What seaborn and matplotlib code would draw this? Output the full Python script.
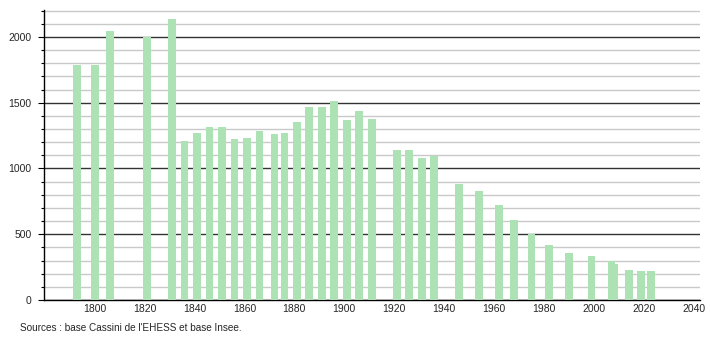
import matplotlib
matplotlib.use("Agg")
import matplotlib.pyplot as plt
from matplotlib.ticker import MultipleLocator
import seaborn as sns
import pandas as pd

years = [1793, 1800, 1806, 1821, 1831, 1836, 1841, 1846, 1851, 1856, 1861, 1866,
         1872, 1876, 1881, 1886, 1891, 1896, 1901, 1906, 1911, 1921, 1926, 1931,
         1936, 1946, 1954, 1962, 1968, 1975, 1982, 1990, 1999, 2007, 2008, 2014,
         2019, 2023]
population = [1788, 1788, 2046, 2000, 2137, 1209, 1272, 1313, 1318, 1224, 1234, 1285,
              1265, 1272, 1356, 1465, 1465, 1513, 1369, 1437, 1376, 1141, 1141, 1082,
              1097, 885, 829, 725, 610, 504, 418, 360, 337, 294, 277, 228,
              220, 220]
y_ticks = [0, 500, 1000, 1500, 2000]
x_ticks = [1800, 1820, 1840, 1860, 1880, 1900, 1920, 1940, 1960, 1980, 2000, 2020, 2040]
source_text = "Sources : base Cassini de l'EHESS et base Insee."

df = pd.DataFrame({"year": years, "population": population})

sns.set_style("white")
plt.rcParams["font.family"] = ["Liberation Sans", "DejaVu Sans"]

fig = plt.figure(figsize=(7.1, 3.4), dpi=100)
ax = fig.add_axes([44 / 710, 40 / 340, 656 / 710, 290 / 340])

# native_scale: width is relative to the smallest gap between years (1 year)
sns.barplot(data=df, x="year", y="population", native_scale=True, width=3.1,
            color="#ade3b4", saturation=1, errorbar=None, ax=ax, zorder=3,
            linewidth=0)

ax.set_xlim(1779.7, 2042.5)
ax.set_ylim(0, 2205)
ax.yaxis.set_major_locator(MultipleLocator(500))
ax.yaxis.set_minor_locator(MultipleLocator(100))
ax.set_yticks(y_ticks)
ax.set_xticks(x_ticks)
ax.set_xticklabels([str(t) for t in x_ticks])

ax.grid(False)
ax.set_axisbelow(True)
ax.yaxis.grid(True, which="minor", color="#c9c9c9", linewidth=1.0, zorder=0)
ax.yaxis.grid(True, which="major", color="#333333", linewidth=1.0, zorder=1)

for s in ["top", "right"]:
    ax.spines[s].set_visible(False)
for s in ["left", "bottom"]:
    ax.spines[s].set_color("#000000")
    ax.spines[s].set_linewidth(1.0)

ax.tick_params(axis="y", which="major", direction="out", length=4, width=0.8,
               color="black", labelsize=7.5, pad=5, left=True)
ax.tick_params(axis="y", which="minor", direction="out", length=2, width=0.8,
               color="black", left=True)
ax.tick_params(axis="x", which="both", length=0, labelsize=7.5, pad=3)

ax.set_xlabel("")
ax.set_ylabel("")

fig.text(20 / 710, 1 - 328 / 340, source_text, fontsize=7.2, ha="left", va="center")

fig.savefig("out.png", dpi=100)
